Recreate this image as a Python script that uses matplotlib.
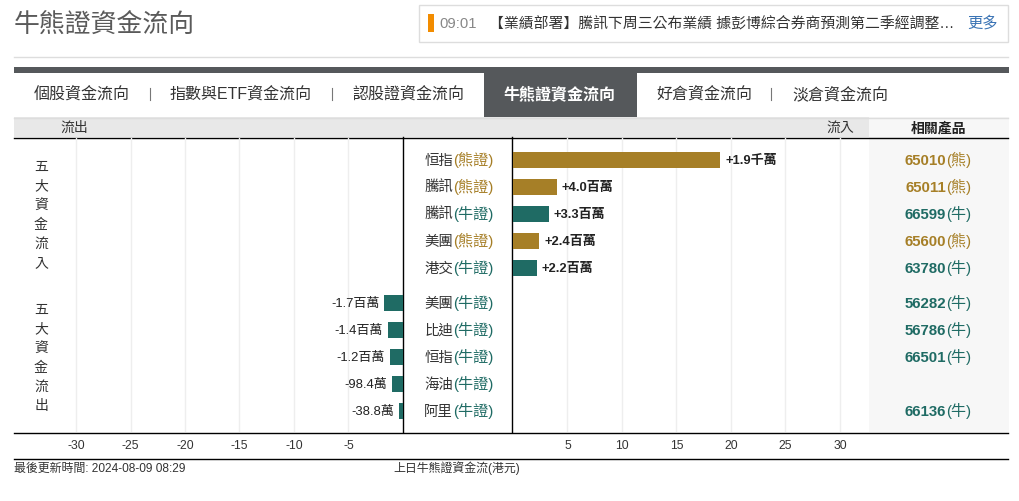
import numpy as np
import matplotlib
matplotlib.use("Agg")
import matplotlib.pyplot as plt
from matplotlib.patches import Rectangle

plt.rcParams['font.family'] = ['Liberation Sans', 'Noto Sans CJK TC', 'DejaVu Sans']

# data
in_names = ["恒指", "騰訊", "騰訊", "美團", "港交"]
in_types = ["熊證", "熊證", "牛證", "熊證", "牛證"]
in_values = [19.0, 4.0, 3.3, 2.4, 2.2]
in_labels = ["+1.9千萬", "+4.0百萬", "+3.3百萬", "+2.4百萬", "+2.2百萬"]
in_codes = ["65010", "65011", "66599", "65600", "63780"]

out_names = ["美團", "比迪", "恒指", "海油", "阿里"]
out_types = ["牛證", "牛證", "牛證", "牛證", "牛證"]
out_values = [-1.7, -1.4, -1.2, -0.984, -0.388]
out_labels = ["-1.7百萬", "-1.4百萬", "-1.2百萬", "-98.4萬", "-38.8萬"]
out_codes = ["56282", "56786", "66501", "", "66136"]

left_ticks = [-30, -25, -20, -15, -10, -5]
right_ticks = [5, 10, 15, 20, 25, 30]
tabs = ["個股資金流向", "指數與ETF資金流向", "認股證資金流向", "牛熊證資金流向", "好倉資金流向", "淡倉資金流向"]
tab_x = [34, 170, 352, 504, 656, 792]
tab_sep = [150, 332, 771]

GOLD = "#a67f27"
TEAL = "#1f6b64"
DARK = "#55585b"
W, H = 1020, 501


def col(t):
    return GOLD if t.startswith("熊") else TEAL


def px_axes(x0, x1, y0, y1):
    return fig.add_axes([x0 / W, 1 - y1 / H, (x1 - x0) / W, (y1 - y0) / H])


fig = plt.figure(figsize=(W / 100, H / 100), dpi=100)

# page stuff, drawn in pixel coordinates
bg = fig.add_axes([0, 0, 1, 1])
bg.set_xlim(0, W)
bg.set_ylim(H, 0)
bg.axis("off")

bg.text(14, 33, "牛熊證資金流向", fontsize=18.6, color="#5a5a5a", va="baseline")
bg.add_patch(Rectangle((419.5, 4.5), 589, 37, fc="white", ec="#dddddd", lw=1))
bg.add_patch(Rectangle((428, 14), 6, 18, fc="#f28c00", ec="none"))
bg.text(439, 28, "09:01", fontsize=10.7, color="#888888", va="baseline")
bg.text(489, 28, "【業績部署】騰訊下周三公布業績 據彭博綜合券商預測第二季經調整…", fontsize=10.7, color="#333333", va="baseline")
bg.text(967, 28, "更多", fontsize=11, color="#3b74b5", va="baseline")
bg.plot([14, 1008.5], [56.5, 56.5], color="#dddddd", lw=1)

bg.add_patch(Rectangle((14, 67), 995, 6, fc=DARK, ec="none"))
bg.add_patch(Rectangle((484, 73), 153, 44, fc=DARK, ec="none"))
for i in range(len(tabs)):
    bg.text(tab_x[i], 99, tabs[i], fontsize=11.5, va="baseline",
            color="white" if i == 3 else "#333333", fontweight="bold" if i == 3 else "normal")
for x in tab_sep:
    bg.plot([x + 0.5, x + 0.5], [88, 100], color="#777777", lw=0.8)

bg.add_patch(Rectangle((14, 117), 855, 20, fc="#e8e8e8", ec="none"))
bg.add_patch(Rectangle((869, 117), 140, 315, fc="#f7f7f7", ec="none"))
bg.plot([14, 1008.5], [117.5, 117.5], color="#dddddd", lw=1)
bg.text(60, 132, "流出", fontsize=10, color="#333333", va="baseline")
bg.text(826, 132, "流入", fontsize=10, color="#333333", va="baseline")
bg.text(938.5, 132, "相關產品", fontsize=10, color="#222222", va="baseline", ha="center", fontweight="bold")

for i, ch in enumerate("五大資金流入"):
    bg.text(41, 171 + i * 19.2, ch, fontsize=10, color="#333333", ha="center", va="baseline")
for i, ch in enumerate("五大資金流出"):
    bg.text(41, 314 + i * 19.2, ch, fontsize=10, color="#333333", ha="center", va="baseline")

bg.text(14, 472, "最後更新時間: 2024-08-09 08:29", fontsize=8.6, color="#333333", va="baseline")
bg.text(393, 472, "上日牛熊證資金流(港元)", fontsize=8.6, color="#333333", va="baseline")

# chart, left and right share the same scale
scale = 10.9
y_in = np.arange(5)
y_out = np.arange(5) + 5 + 8 / 27
ymin, ymax = (432 - 160) / 27, (138 - 160) / 27

left = px_axes(14, 403, 138, 432)
right = px_axes(513, 869, 138, 432)
left.set_xlim(-(403 - 14) / scale, 0)
right.set_xlim(0, (869 - 513) / scale)

for ax, ticks in [(left, left_ticks), (right, right_ticks)]:
    ax.set_ylim(ymin, ymax)
    ax.set_xticks(ticks)
    ax.set_xticklabels(ticks)
    ax.set_yticks([])
    ax.tick_params(axis="x", length=0, pad=6, labelsize=8.7, labelcolor="#333333")
    ax.grid(axis="x", color="#eeeeee", lw=1)
    ax.set_axisbelow(True)
    ax.patch.set_alpha(0)
    for s in ax.spines.values():
        s.set_visible(False)

right.barh(y_in, in_values, height=16 / 27, color=[col(t) for t in in_types])
left.barh(y_out, out_values, height=16 / 27, color=[col(t) for t in out_types])

for i in range(5):
    right.annotate(in_labels[i], (in_values[i], y_in[i]), xytext=(3.6, -3.2), textcoords="offset points",
                   fontsize=9.4, fontweight="bold", color="#222222", va="baseline", ha="left")
    left.annotate(out_labels[i], (out_values[i], y_out[i]), xytext=(-3.6, -3.2), textcoords="offset points",
                  fontsize=9.4, color="#222222", va="baseline", ha="right")

# centre names and product codes, row y comes from the row numbers above
for names, types, codes, ys in [(in_names, in_types, in_codes, y_in), (out_names, out_types, out_codes, y_out)]:
    for i in range(5):
        py = 165 + ys[i] * 27
        bg.text(453, py, names[i], fontsize=10.4, color="#333333", ha="right", va="baseline")
        bg.text(453, py, "(" + types[i] + ")", fontsize=10.9, color=col(types[i]), ha="left", va="baseline")
        if codes[i]:
            bg.text(946, py, codes[i], fontsize=10.8, color=col(types[i]), ha="right", va="baseline",
                    fontweight="bold")
            bg.text(946, py, "(" + types[i][0] + ")", fontsize=10.8, color=col(types[i]), ha="left", va="baseline")

# frame lines
bg.plot([14, 1008.5], [137.5, 137.5], color="black", lw=1)
bg.plot([14, 1008.5], [432.5, 432.5], color="black", lw=1)
bg.plot([14, 1008.5], [458.5, 458.5], color="black", lw=1)
bg.plot([403.5, 403.5], [137, 432], color="black", lw=1)
bg.plot([512.5, 512.5], [137, 432], color="black", lw=1)

fig.savefig("out.png", dpi=100)
